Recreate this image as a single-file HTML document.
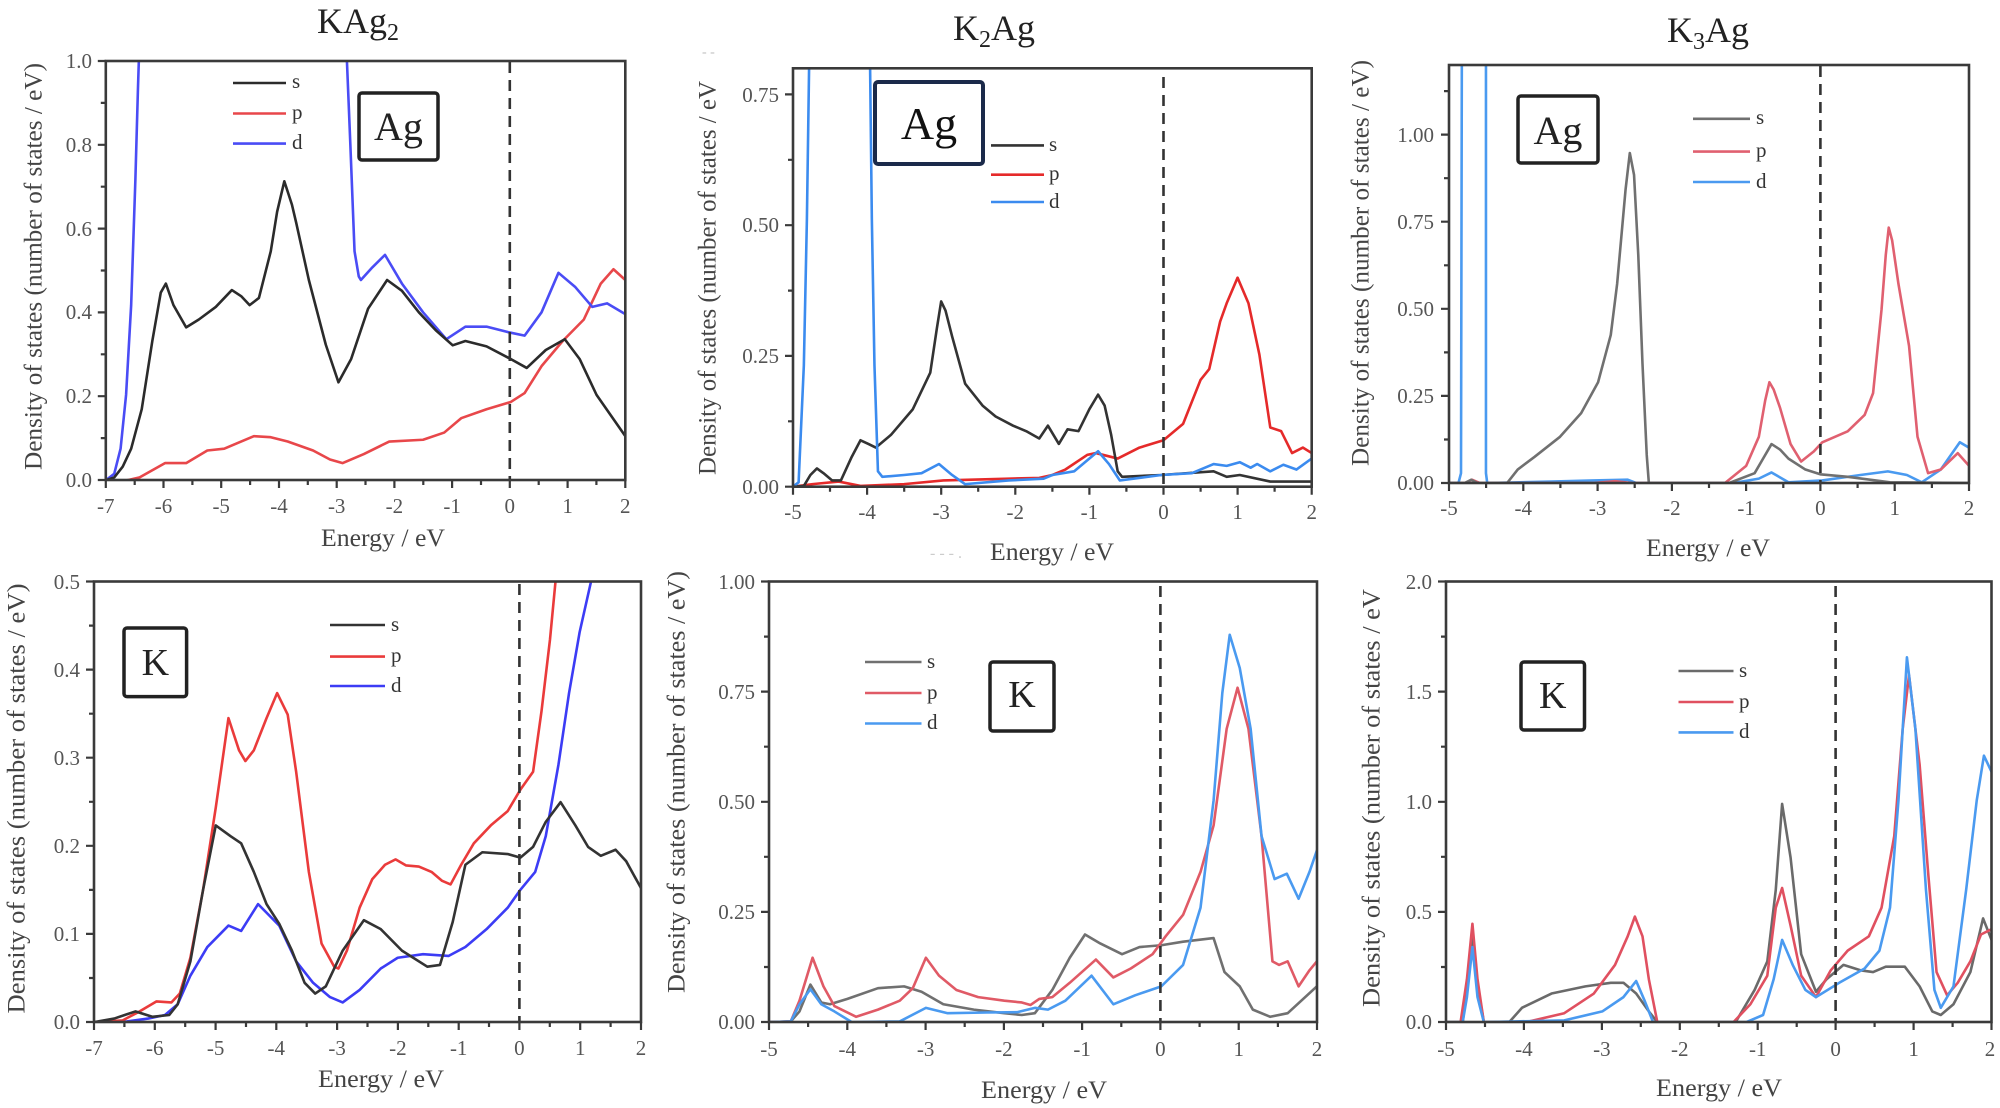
<!DOCTYPE html>
<html>
<head>
<meta charset="utf-8">
<style>
html,body{margin:0;padding:0;background:#fff;}
svg{display:block;font-family:"Liberation Serif","DejaVu Serif",serif;}
svg text{font-family:"Liberation Serif","DejaVu Serif",serif;}
.tk{font-family:"Liberation Serif","DejaVu Serif",serif;font-size:21px;fill:#555;}
.ax{font-family:"Liberation Serif","DejaVu Serif",serif;font-size:25px;fill:#444;}
.ti{font-family:"Liberation Serif","DejaVu Serif",serif;font-size:36px;fill:#222;}
.lg{font-family:"Liberation Serif","DejaVu Serif",serif;font-size:21px;fill:#333;}
.bx{fill:none;stroke:#222;stroke-width:3.5;}
.fr{fill:none;stroke:#3a3a3a;stroke-width:2.6;}
.tks{fill:none;stroke:#3a3a3a;stroke-width:2.2;}
.dash{stroke:#333;stroke-width:2.6;stroke-dasharray:11,7;fill:none;}
.c{fill:none;stroke-width:2.6;stroke-linejoin:round;stroke-linecap:round;vector-effect:non-scaling-stroke;}
</style>
</head>
<body>
<svg width="2000" height="1108" viewBox="0 0 2000 1108" xmlns="http://www.w3.org/2000/svg" font-family="Liberation Serif, DejaVu Serif, serif">
<defs>
<clipPath id="c1"><rect x="250" y="170" width="1228" height="1168"/></clipPath>
<clipPath id="c2"><rect x="305" y="187" width="1190" height="1145"/></clipPath>
<clipPath id="c3"><rect x="258" y="178" width="1229" height="1149"/></clipPath>
<clipPath id="c4"><rect x="222" y="88" width="1293" height="1232"/></clipPath>
<clipPath id="c5"><rect x="250" y="88" width="1257" height="1232"/></clipPath>
<clipPath id="c6"><rect x="250" y="88" width="1290" height="1232"/></clipPath>
</defs>

<!-- ================= PANEL 1 : KAg2 Ag ================= -->
<text class="ti" x="358" y="33" text-anchor="middle" font-family="Liberation Serif, serif">KAg<tspan font-size="24" dy="7">2</tspan></text>
<g transform="translate(0,0) scale(0.42308,0.35897)" clip-path="url(#c1)">
<polyline class="c" stroke="#e8474a" points="250,1338 300,1338 330,1330 360,1310 390,1290 440,1290 490,1255 530,1250 560,1235 600,1215 640,1218 680,1230 740,1255 780,1280 810,1290 860,1265 920,1230 1000,1225 1050,1205 1090,1165 1150,1140 1207,1120 1240,1095 1280,1020 1330,950 1380,890 1420,790 1450,750 1478,780"/>
<path class="c" stroke="#4a4cf5" d="M250,1338 L270,1320 285,1250 298,1100 310,850 320,500 326,250 330,100 334,-100 M815,-100 L820,170 828,400 838,700 848,770 853,780 880,745 910,710 950,790 1000,870 1055,945 1100,910 1150,910 1200,925 1240,935 1280,870 1320,760 1360,800 1400,855 1435,845 1478,875"/>
<polyline class="c" stroke="#2b2b2b" points="250,1338 270,1330 290,1300 310,1250 335,1140 360,950 380,815 392,790 410,850 440,912 470,890 510,855 548,808 570,825 590,850 612,830 640,700 655,590 672,505 690,570 700,620 730,780 770,960 800,1065 830,1000 870,860 915,780 950,810 990,870 1030,920 1070,962 1100,950 1150,965 1207,1000 1245,1025 1290,975 1335,945 1370,1000 1410,1100 1478,1215"/>
</g>
<line class="dash" x1="509.8" y1="62" x2="509.8" y2="480"/>
<rect class="fr" x="105.8" y="61" width="519.5" height="419"/>
<path class="tks" d="M105.8,480v8M163.5,480v8M221.2,480v8M279,480v8M336.7,480v8M394.4,480v8M452.1,480v8M509.8,480v8M567.6,480v8M625.3,480v8M134.7,480v5M192.4,480v5M250.1,480v5M307.8,480v5M365.5,480v5M423.3,480v5M481,480v5M538.7,480v5M596.4,480v5M105.8,480h-8M105.8,396.2h-8M105.8,312.4h-8M105.8,228.6h-8M105.8,144.8h-8M105.8,61h-8M105.8,438.1h-5M105.8,354.3h-5M105.8,270.5h-5M105.8,186.7h-5M105.8,102.9h-5"/>
<g class="tk" text-anchor="end" font-family="Liberation Serif, serif">
<text x="92" y="487">0.0</text><text x="92" y="403">0.2</text><text x="92" y="319">0.4</text><text x="92" y="236">0.6</text><text x="92" y="152">0.8</text><text x="92" y="68">1.0</text>
</g>
<g class="tk" text-anchor="middle" font-family="Liberation Serif, serif">
<text x="105.8" y="513">-7</text><text x="163.5" y="513">-6</text><text x="221.2" y="513">-5</text><text x="279" y="513">-4</text><text x="336.7" y="513">-3</text><text x="394.4" y="513">-2</text><text x="452.1" y="513">-1</text><text x="509.8" y="513">0</text><text x="567.6" y="513">1</text><text x="625.3" y="513">2</text>
</g>
<text class="ax" x="383" y="546" text-anchor="middle" font-family="Liberation Serif, serif" textLength="124" lengthAdjust="spacingAndGlyphs">Energy / eV</text>
<text class="ax" transform="translate(41.5,266.5) rotate(-90)" text-anchor="middle" font-family="Liberation Serif, serif" textLength="407" lengthAdjust="spacingAndGlyphs">Density of states (number of states / eV)</text>
<line x1="233" y1="83" x2="286" y2="83" stroke="#2b2b2b" stroke-width="2.6"/>
<line x1="233" y1="113.5" x2="286" y2="113.5" stroke="#e8474a" stroke-width="2.6"/>
<line x1="233" y1="143.6" x2="286" y2="143.6" stroke="#4a4cf5" stroke-width="2.6"/>
<text class="lg" x="292" y="88">s</text><text class="lg" x="292" y="119">p</text><text class="lg" x="292" y="149">d</text>
<rect class="bx" x="359" y="93" width="79" height="67" rx="3"/>
<text x="398.5" y="140" font-size="40" fill="#222" text-anchor="middle" font-family="Liberation Serif, serif">Ag</text>

<!-- ================= PANEL 2 : K2Ag Ag ================= -->
<text class="ti" x="994" y="40" text-anchor="middle" font-family="Liberation Serif, serif">K<tspan font-size="24" dy="7">2</tspan><tspan dy="-7">Ag</tspan></text>
<text x="702" y="56" font-size="14" fill="#bbb">- -</text>
<g transform="translate(660,0) scale(0.43590,0.36538)" clip-path="url(#c2)">
<polyline class="c" stroke="#e52a2a" points="305,1332 350,1325 410,1318 460,1330 560,1325 650,1315 800,1310 870,1308 900,1300 930,1285 980,1245 1000,1240 1050,1255 1100,1225 1155,1205 1200,1160 1240,1040 1260,1010 1285,880 1300,830 1325,760 1350,830 1375,970 1400,1170 1425,1180 1450,1240 1475,1225 1495,1240"/>
<polyline class="c" stroke="#333" points="305,1332 330,1330 345,1300 360,1282 375,1295 395,1315 415,1315 440,1250 460,1205 478,1215 495,1225 530,1190 580,1120 620,1020 635,900 645,825 655,850 670,920 700,1050 740,1110 770,1140 810,1165 840,1180 870,1200 890,1165 915,1215 935,1175 960,1180 985,1120 1005,1080 1020,1110 1035,1190 1050,1290 1060,1305 1150,1300 1270,1290 1300,1305 1330,1300 1400,1318 1495,1318"/>
<path class="c" stroke="#3b8bef" d="M305,1332 L318,1320 330,1000 337,600 342,187 344,-100 M480,-100 L482,187 486,600 492,1000 500,1290 510,1305 560,1300 600,1295 640,1270 670,1300 700,1325 800,1315 880,1310 900,1300 950,1290 980,1260 1005,1235 1030,1270 1055,1315 1150,1300 1220,1295 1270,1270 1300,1275 1330,1265 1355,1280 1370,1270 1400,1290 1430,1272 1460,1285 1495,1255"/>
</g>
<line class="dash" x1="1163.5" y1="77" x2="1163.5" y2="486.7"/>
<rect class="fr" x="793" y="68.3" width="518.7" height="418.4"/>
<path class="tks" d="M793,486.7v8M867.1,486.7v8M941.2,486.7v8M1015.3,486.7v8M1089.4,486.7v8M1163.5,486.7v8M1237.6,486.7v8M1311.7,486.7v8M830,486.7v5M904.2,486.7v5M978.2,486.7v5M1052.4,486.7v5M1126.4,486.7v5M1200.6,486.7v5M1274.6,486.7v5M793,486.7h-8M793,355.9h-8M793,225.2h-8M793,94.4h-8M793,421.3h-5M793,290.6h-5M793,159.8h-5"/>
<g class="tk" text-anchor="end" font-family="Liberation Serif, serif">
<text x="779" y="494">0.00</text><text x="779" y="363">0.25</text><text x="779" y="232">0.50</text><text x="779" y="102">0.75</text>
</g>
<g class="tk" text-anchor="middle" font-family="Liberation Serif, serif">
<text x="793" y="519">-5</text><text x="867.1" y="519">-4</text><text x="941.2" y="519">-3</text><text x="1015.3" y="519">-2</text><text x="1089.4" y="519">-1</text><text x="1163.5" y="519">0</text><text x="1237.6" y="519">1</text><text x="1311.7" y="519">2</text>
</g>
<text class="ax" x="1052" y="560" text-anchor="middle" font-family="Liberation Serif, serif" textLength="124" lengthAdjust="spacingAndGlyphs">Energy / eV</text>
<text x="930" y="558" font-size="16" fill="#ccc">- - - .</text>
<text class="ax" transform="translate(715.5,278) rotate(-90)" text-anchor="middle" font-family="Liberation Serif, serif" textLength="394" lengthAdjust="spacingAndGlyphs">Density of states (number of states / eV</text>
<line x1="991" y1="145.4" x2="1044" y2="145.4" stroke="#333" stroke-width="2.6"/>
<line x1="991" y1="174.7" x2="1044" y2="174.7" stroke="#e52a2a" stroke-width="2.6"/>
<line x1="991" y1="202" x2="1044" y2="202" stroke="#3b8bef" stroke-width="2.6"/>
<text class="lg" x="1049" y="151">s</text><text class="lg" x="1049" y="180">p</text><text class="lg" x="1049" y="208">d</text>
<rect x="875" y="82" width="108" height="82" rx="3" fill="#fff" stroke="#1b2a4a" stroke-width="4"/>
<text x="929" y="139" font-size="46" fill="#111" text-anchor="middle" font-family="Liberation Serif, serif">Ag</text>

<!-- ================= PANEL 3 : K3Ag Ag ================= -->
<text class="ti" x="1708" y="42" text-anchor="middle" font-family="Liberation Serif, serif">K<tspan font-size="24" dy="7">3</tspan><tspan dy="-7">Ag</tspan></text>
<g transform="translate(1340,0.24) scale(0.42308,0.3638)" clip-path="url(#c3)">
<path class="c" stroke="#4a9af0" d="M258,1327 L280,1327 286,1300 288,150 M345,150 L345,1300 348,1327 500,1323 600,1320 680,1318 700,1327 930,1327 990,1315 1020,1298 1060,1325 1140,1320 1230,1305 1295,1295 1340,1305 1375,1325 1420,1290 1465,1215 1487,1230"/>
<polyline class="c" stroke="#e06070" points="258,1327 295,1327 312,1318 330,1327 600,1327 650,1322 690,1327 910,1327 960,1280 990,1200 1005,1100 1015,1050 1025,1070 1040,1120 1065,1220 1090,1268 1120,1240 1140,1215 1200,1185 1240,1140 1260,1080 1280,850 1290,700 1297,625 1305,660 1320,780 1345,950 1365,1200 1390,1300 1420,1290 1460,1245 1487,1280"/>
<polyline class="c" stroke="#707070" points="258,1327 295,1327 310,1318 325,1327 395,1327 420,1290 460,1255 520,1200 570,1135 610,1050 640,920 655,780 665,650 675,520 685,420 695,480 705,700 715,1000 725,1250 730,1327 920,1327 980,1300 1000,1260 1020,1220 1040,1235 1060,1260 1100,1290 1135,1303 1200,1310 1300,1325 1487,1327"/>
</g>
<line class="dash" x1="1820.4" y1="66" x2="1820.4" y2="483"/>
<rect class="fr" x="1449" y="65" width="520" height="418"/>
<path class="tks" d="M1449,483v8M1523.3,483v8M1597.6,483v8M1671.9,483v8M1746.1,483v8M1820.4,483v8M1894.7,483v8M1969,483v8M1486.1,483v5M1560.4,483v5M1634.7,483v5M1709,483v5M1783.3,483v5M1857.6,483v5M1931.9,483v5M1449,483h-8M1449,395.9h-8M1449,308.8h-8M1449,221.7h-8M1449,134.6h-8M1449,439.5h-5M1449,352.4h-5M1449,265.3h-5M1449,178.2h-5M1449,91.1h-5"/>
<g class="tk" text-anchor="end" font-family="Liberation Serif, serif">
<text x="1434" y="490">0.00</text><text x="1434" y="403">0.25</text><text x="1434" y="316">0.50</text><text x="1434" y="229">0.75</text><text x="1434" y="142">1.00</text>
</g>
<g class="tk" text-anchor="middle" font-family="Liberation Serif, serif">
<text x="1449" y="515">-5</text><text x="1523.3" y="515">-4</text><text x="1597.6" y="515">-3</text><text x="1671.9" y="515">-2</text><text x="1746.1" y="515">-1</text><text x="1820.4" y="515">0</text><text x="1894.7" y="515">1</text><text x="1969" y="515">2</text>
</g>
<text class="ax" x="1708" y="556" text-anchor="middle" font-family="Liberation Serif, serif" textLength="124" lengthAdjust="spacingAndGlyphs">Energy / eV</text>
<text class="ax" transform="translate(1368.5,263) rotate(-90)" text-anchor="middle" font-family="Liberation Serif, serif" textLength="406" lengthAdjust="spacingAndGlyphs">Density of states (number of states / eV)</text>
<line x1="1693" y1="118.8" x2="1750" y2="118.8" stroke="#707070" stroke-width="2.6"/>
<line x1="1693" y1="151.6" x2="1750" y2="151.6" stroke="#e06070" stroke-width="2.6"/>
<line x1="1693" y1="182" x2="1750" y2="182" stroke="#4a9af0" stroke-width="2.6"/>
<text class="lg" x="1756" y="124">s</text><text class="lg" x="1756" y="157">p</text><text class="lg" x="1756" y="188">d</text>
<rect class="bx" x="1518" y="96" width="80" height="67" rx="3"/>
<text x="1558" y="144" font-size="40" fill="#222" text-anchor="middle" font-family="Liberation Serif, serif">Ag</text>

<!-- ================= PANEL 4 : KAg2 K ================= -->
<g transform="translate(0,550) scale(0.42308,0.35769)" clip-path="url(#c4)">
<polyline class="c" stroke="#3c3cf5" points="222,1320 300,1318 350,1310 390,1300 420,1270 450,1190 490,1110 540,1050 570,1065 610,990 660,1050 700,1150 740,1210 780,1250 810,1265 850,1230 900,1170 940,1140 1000,1130 1060,1135 1100,1110 1150,1060 1200,1000 1230,950 1265,900 1290,800 1320,600 1345,400 1370,230 1397,88 1410,0"/>
<polyline class="c" stroke="#ea3b3b" points="222,1320 290,1315 330,1290 370,1262 405,1265 425,1240 450,1140 480,950 510,720 540,470 565,560 580,590 600,560 630,470 655,400 680,460 700,620 730,900 760,1100 790,1165 800,1170 820,1120 850,1000 880,920 910,880 935,865 960,882 990,885 1020,900 1045,925 1065,935 1090,880 1120,820 1160,770 1200,730 1230,670 1260,620 1280,450 1300,250 1313,88 1320,0"/>
<polyline class="c" stroke="#333" points="222,1320 270,1310 320,1290 360,1305 400,1300 420,1270 450,1150 480,950 510,770 545,800 570,820 600,900 630,990 660,1045 690,1120 720,1210 745,1240 770,1220 810,1120 860,1035 900,1060 950,1120 1010,1165 1040,1160 1070,1040 1100,880 1140,845 1200,850 1230,860 1260,830 1290,760 1325,705 1360,770 1390,830 1420,855 1455,838 1480,870 1515,945"/>
</g>
<line class="dash" x1="519.4" y1="584" x2="519.4" y2="1022"/>
<rect class="fr" x="94" y="581.5" width="547" height="440.5"/>
<path class="tks" d="M94,1022v8M154.8,1022v8M215.6,1022v8M276.3,1022v8M337.1,1022v8M397.9,1022v8M458.7,1022v8M519.4,1022v8M580.2,1022v8M641,1022v8M124.4,1022v5M185.2,1022v5M246,1022v5M306.7,1022v5M367.5,1022v5M428.3,1022v5M489,1022v5M549.8,1022v5M610.6,1022v5M94,1022h-8M94,933.9h-8M94,845.8h-8M94,757.7h-8M94,669.6h-8M94,581.5h-8M94,978h-5M94,889.9h-5M94,801.8h-5M94,713.7h-5M94,625.6h-5"/>
<g class="tk" text-anchor="end" font-family="Liberation Serif, serif">
<text x="80" y="1029">0.0</text><text x="80" y="941">0.1</text><text x="80" y="853">0.2</text><text x="80" y="765">0.3</text><text x="80" y="677">0.4</text><text x="80" y="589">0.5</text>
</g>
<g class="tk" text-anchor="middle" font-family="Liberation Serif, serif">
<text x="94" y="1055">-7</text><text x="154.8" y="1055">-6</text><text x="215.6" y="1055">-5</text><text x="276.3" y="1055">-4</text><text x="337.1" y="1055">-3</text><text x="397.9" y="1055">-2</text><text x="458.7" y="1055">-1</text><text x="519.4" y="1055">0</text><text x="580.2" y="1055">1</text><text x="641" y="1055">2</text>
</g>
<text class="ax" x="381" y="1087" text-anchor="middle" font-family="Liberation Serif, serif" textLength="126" lengthAdjust="spacingAndGlyphs">Energy / eV</text>
<text class="ax" transform="translate(24.5,798.5) rotate(-90)" text-anchor="middle" font-family="Liberation Serif, serif" textLength="430" lengthAdjust="spacingAndGlyphs">Density of states (number of states / eV)</text>
<line x1="330" y1="625" x2="385" y2="625" stroke="#333" stroke-width="2.6"/>
<line x1="330" y1="656.6" x2="385" y2="656.6" stroke="#ea3b3b" stroke-width="2.6"/>
<line x1="330" y1="686" x2="385" y2="686" stroke="#3c3cf5" stroke-width="2.6"/>
<text class="lg" x="391" y="631">s</text><text class="lg" x="391" y="662">p</text><text class="lg" x="391" y="692">d</text>
<rect class="bx" x="124" y="628" width="62.6" height="68.6" rx="3"/>
<text x="155.3" y="675" font-size="38" fill="#222" text-anchor="middle" font-family="Liberation Serif, serif">K</text>

<!-- ================= PANEL 5 : K2Ag K ================= -->
<g transform="translate(660,550) scale(0.43590,0.35769)" clip-path="url(#c5)">
<polyline class="c" stroke="#707070" points="250,1320 300,1318 320,1290 345,1215 370,1265 390,1270 430,1255 500,1225 560,1220 600,1235 650,1270 720,1285 790,1295 830,1300 860,1295 900,1230 940,1140 975,1075 1010,1100 1060,1130 1100,1110 1150,1105 1200,1095 1270,1085 1295,1180 1330,1220 1360,1285 1400,1305 1440,1295 1507,1220"/>
<polyline class="c" stroke="#e05a66" points="250,1320 300,1318 320,1260 350,1140 375,1220 400,1275 450,1305 500,1285 550,1260 580,1225 610,1140 640,1190 680,1230 730,1250 790,1260 830,1265 850,1272 870,1255 900,1250 940,1210 1000,1145 1040,1195 1080,1170 1130,1130 1160,1080 1200,1020 1240,900 1270,770 1300,500 1325,385 1350,500 1380,800 1405,1150 1420,1160 1440,1150 1465,1220 1490,1175 1507,1150"/>
<polyline class="c" stroke="#4a9af0" points="250,1320 300,1318 320,1270 345,1228 370,1270 400,1290 440,1320 550,1318 610,1280 660,1295 750,1293 820,1292 860,1280 890,1285 930,1260 990,1190 1040,1270 1090,1245 1150,1220 1200,1160 1240,1000 1270,700 1290,400 1307,237 1330,330 1355,500 1380,800 1410,920 1438,905 1465,975 1490,900 1507,840"/>
</g>
<line class="dash" x1="1160.4" y1="586" x2="1160.4" y2="1022"/>
<rect class="fr" x="769" y="581.5" width="548" height="440.5"/>
<path class="tks" d="M769,1022v8M847.3,1022v8M925.6,1022v8M1003.9,1022v8M1082.1,1022v8M1160.4,1022v8M1238.7,1022v8M1317,1022v8M808.1,1022v5M886.4,1022v5M964.7,1022v5M1043,1022v5M1121.3,1022v5M1199.6,1022v5M1277.9,1022v5M769,1022h-8M769,911.9h-8M769,801.8h-8M769,691.6h-8M769,581.5h-8M769,967h-5M769,856.8h-5M769,746.7h-5M769,636.6h-5"/>
<g class="tk" text-anchor="end" font-family="Liberation Serif, serif">
<text x="755" y="1029">0.00</text><text x="755" y="919">0.25</text><text x="755" y="809">0.50</text><text x="755" y="699">0.75</text><text x="755" y="589">1.00</text>
</g>
<g class="tk" text-anchor="middle" font-family="Liberation Serif, serif">
<text x="769" y="1056">-5</text><text x="847.3" y="1056">-4</text><text x="925.6" y="1056">-3</text><text x="1003.9" y="1056">-2</text><text x="1082.1" y="1056">-1</text><text x="1160.4" y="1056">0</text><text x="1238.7" y="1056">1</text><text x="1317" y="1056">2</text>
</g>
<text class="ax" x="1044" y="1098" text-anchor="middle" font-family="Liberation Serif, serif" textLength="126" lengthAdjust="spacingAndGlyphs">Energy / eV</text>
<text class="ax" transform="translate(684.5,782) rotate(-90)" text-anchor="middle" font-family="Liberation Serif, serif" textLength="422" lengthAdjust="spacingAndGlyphs">Density of states (number of states / eV)</text>
<line x1="865" y1="662" x2="921.5" y2="662" stroke="#707070" stroke-width="2.6"/>
<line x1="865" y1="693" x2="921.5" y2="693" stroke="#e05a66" stroke-width="2.6"/>
<line x1="865" y1="723.5" x2="921.5" y2="723.5" stroke="#4a9af0" stroke-width="2.6"/>
<text class="lg" x="927" y="668">s</text><text class="lg" x="927" y="699">p</text><text class="lg" x="927" y="729">d</text>
<rect class="bx" x="990" y="662" width="64" height="69" rx="3"/>
<text x="1022" y="707" font-size="38" fill="#222" text-anchor="middle" font-family="Liberation Serif, serif">K</text>

<!-- ================= PANEL 6 : K3Ag K ================= -->
<g transform="translate(1340,550) scale(0.42308,0.35769)" clip-path="url(#c6)">
<polyline class="c" stroke="#6a6a6a" points="250,1320 290,1320 303,1200 313,1070 323,1200 340,1320 400,1320 430,1280 500,1240 580,1220 640,1210 670,1210 700,1240 730,1290 750,1320 935,1320 980,1230 1010,1150 1030,950 1045,710 1065,860 1090,1130 1125,1235 1150,1200 1190,1160 1230,1175 1260,1180 1290,1165 1335,1165 1370,1220 1400,1290 1420,1300 1450,1270 1490,1180 1520,1030 1540,1090"/>
<polyline class="c" stroke="#e05060" points="250,1320 285,1320 300,1200 313,1045 325,1200 340,1320 440,1320 530,1295 600,1240 650,1160 680,1080 697,1025 715,1080 730,1200 750,1320 930,1320 970,1270 1010,1190 1030,1000 1045,945 1065,1050 1090,1190 1125,1250 1160,1175 1200,1120 1250,1080 1280,1000 1310,800 1330,500 1345,350 1370,600 1390,900 1410,1180 1435,1245 1460,1210 1490,1150 1515,1075 1540,1060"/>
<polyline class="c" stroke="#4a9af0" points="250,1320 290,1320 300,1250 313,1110 325,1250 340,1320 530,1315 620,1290 670,1250 700,1205 720,1260 740,1320 960,1320 1000,1300 1025,1200 1045,1090 1070,1160 1100,1230 1125,1250 1180,1210 1240,1170 1275,1120 1300,1000 1320,700 1340,300 1360,500 1385,950 1405,1230 1420,1280 1450,1220 1480,950 1505,700 1522,575 1540,620"/>
</g>
<line class="dash" x1="1835.6" y1="586" x2="1835.6" y2="1022"/>
<rect class="fr" x="1446" y="581.5" width="545.5" height="440.5"/>
<path class="tks" d="M1446,1022v8M1523.9,1022v8M1601.9,1022v8M1679.8,1022v8M1757.7,1022v8M1835.6,1022v8M1913.6,1022v8M1991.5,1022v8M1485,1022v5M1562.9,1022v5M1640.8,1022v5M1718.8,1022v5M1796.7,1022v5M1874.6,1022v5M1952.6,1022v5M1446,1022h-8M1446,911.9h-8M1446,801.8h-8M1446,691.6h-8M1446,581.5h-8M1446,967h-5M1446,856.8h-5M1446,746.7h-5M1446,636.6h-5"/>
<g class="tk" text-anchor="end" font-family="Liberation Serif, serif">
<text x="1432" y="1029">0.0</text><text x="1432" y="919">0.5</text><text x="1432" y="809">1.0</text><text x="1432" y="699">1.5</text><text x="1432" y="589">2.0</text>
</g>
<g class="tk" text-anchor="middle" font-family="Liberation Serif, serif">
<text x="1446" y="1056">-5</text><text x="1523.9" y="1056">-4</text><text x="1601.9" y="1056">-3</text><text x="1679.8" y="1056">-2</text><text x="1757.7" y="1056">-1</text><text x="1835.6" y="1056">0</text><text x="1913.6" y="1056">1</text><text x="1990" y="1056">2</text>
</g>
<text class="ax" x="1719" y="1096" text-anchor="middle" font-family="Liberation Serif, serif" textLength="126" lengthAdjust="spacingAndGlyphs">Energy / eV</text>
<text class="ax" transform="translate(1379.5,798) rotate(-90)" text-anchor="middle" font-family="Liberation Serif, serif" textLength="418" lengthAdjust="spacingAndGlyphs">Density of states (number of states / eV</text>
<line x1="1678.5" y1="671" x2="1733.5" y2="671" stroke="#6a6a6a" stroke-width="2.6"/>
<line x1="1678.5" y1="702" x2="1733.5" y2="702" stroke="#e05060" stroke-width="2.6"/>
<line x1="1678.5" y1="732.4" x2="1733.5" y2="732.4" stroke="#4a9af0" stroke-width="2.6"/>
<text class="lg" x="1739" y="677">s</text><text class="lg" x="1739" y="708">p</text><text class="lg" x="1739" y="738">d</text>
<rect class="bx" x="1521" y="662" width="63.5" height="68" rx="3"/>
<text x="1552.7" y="708" font-size="38" fill="#222" text-anchor="middle" font-family="Liberation Serif, serif">K</text>
</svg>
</body>
</html>
